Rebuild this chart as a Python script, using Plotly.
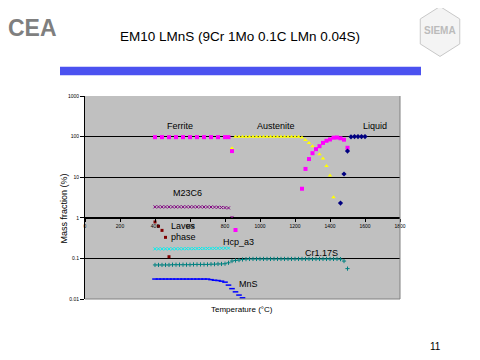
import plotly.graph_objects as go
import math

# ---------------- data ----------------
ferrite_T = [400, 440, 480, 520, 560, 600, 640, 680, 720, 760, 800, 820, 840, 860,
             1240, 1260, 1280, 1300, 1320, 1340, 1360, 1380, 1400, 1420, 1440, 1460, 1480, 1500]
ferrite_v = [97, 97, 97, 97, 97, 97, 97, 97, 97, 97, 97, 97, 44, 0.5,
             5.2, 16, 28, 39, 49, 58, 70, 79, 85, 94, 95, 91, 84, 53]

austenite_T = [840, 860, 880, 900, 920, 940, 960, 980, 1000, 1020, 1040, 1060, 1080, 1100,
               1120, 1140, 1160, 1180, 1200, 1220, 1240, 1260, 1280, 1300, 1320, 1340, 1360,
               1380, 1400, 1420]
austenite_v = [52, 99, 99, 99, 99, 99, 99, 99, 99, 99, 99, 99, 99, 99,
               99, 99, 99, 99, 99, 99, 95, 82, 70, 58, 47, 37, 29,
               19, 11, 3.2]

liquid_T = [1460, 1480, 1500, 1520, 1540, 1560, 1580, 1600]
liquid_v = [2.3, 12, 44, 99, 100, 100, 100, 100]

m23c6_T = [400, 420, 440, 460, 480, 500, 520, 540, 560, 580, 600, 620, 640, 660, 680,
           700, 720, 740, 760, 780, 800, 820, 840]
m23c6_v = [1.86, 1.86, 1.86, 1.86, 1.86, 1.86, 1.86, 1.86, 1.86, 1.86, 1.86, 1.86, 1.86, 1.86, 1.85,
           1.85, 1.84, 1.83, 1.82, 1.80, 1.78, 1.75, 1.02]

laves_T = [400, 420, 440, 460, 480]
laves_v = [0.79, 0.62, 0.49, 0.33, 0.11]

hcp_T = [400, 420, 440, 460, 480, 500, 520, 540, 560, 580, 600, 620, 640, 660, 680,
         700, 720, 740, 760, 780, 800, 820]
hcp_v = [0.172, 0.172, 0.172, 0.172, 0.172, 0.172, 0.173, 0.173, 0.173, 0.174, 0.174, 0.174,
         0.175, 0.175, 0.175, 0.176, 0.176, 0.177, 0.177, 0.178, 0.178, 0.179]

cr117s_T = [400, 420, 440, 460, 480, 500, 520, 540, 560, 580, 600, 620, 640, 660, 680,
            700, 720, 740, 760, 780, 800, 820, 840, 860, 880, 900, 920, 940, 960, 980,
            1000, 1020, 1040, 1060, 1080, 1100, 1120, 1140, 1160, 1180, 1200, 1220, 1240,
            1260, 1280, 1300, 1320, 1340, 1360, 1380, 1400, 1420, 1440, 1460, 1480, 1500]
cr117s_v = [0.069, 0.069, 0.069, 0.069, 0.069, 0.070, 0.070, 0.070, 0.070, 0.070, 0.070, 0.071,
            0.071, 0.071, 0.071, 0.071, 0.072, 0.072, 0.073, 0.073, 0.074, 0.078, 0.086, 0.089,
            0.091, 0.094, 0.096, 0.097, 0.097, 0.097, 0.097, 0.097, 0.097, 0.097, 0.097, 0.097,
            0.097, 0.097, 0.097, 0.097, 0.097, 0.097, 0.097, 0.097, 0.097, 0.097, 0.097, 0.097,
            0.097, 0.097, 0.097, 0.097, 0.097, 0.096, 0.086, 0.056]

mns_T = [400, 420, 440, 460, 480, 500, 520, 540, 560, 580, 600, 620, 640, 660, 680, 700,
         720, 740, 760, 780, 800, 820, 840, 860, 880, 900]
mns_v = [0.031, 0.031, 0.031, 0.031, 0.031, 0.031, 0.031, 0.031, 0.031, 0.031, 0.031, 0.031,
         0.031, 0.031, 0.031, 0.031, 0.030, 0.029, 0.0285, 0.0275, 0.026, 0.022, 0.018, 0.015,
         0.0125, 0.0107]

x_ticks = [0, 200, 400, 600, 800, 1000, 1200, 1400, 1600, 1800]
y_ticks = [0.01, 0.1, 1, 10, 100, 1000]
y_ticktext = ["0.01", "0.1", "1", "10", "100", "1000"]

# ---------------- layout geometry ----------------
# page coordinates (the page body has an 8px margin, so the figure is offset by 8px)
OFF = 8
W, H = 480 - OFF, 360 - OFF
PL, PR, PT, PB = 85, 400, 96, 291          # plot area in page pixels
ML, MT = PL - OFF, PT - OFF
MR, MB = 480 - PR, 360 - PB - OFF
PW, PH = PR - PL, PB - PT


def px(x):
    return (x - PL) / PW


def py(y):
    return (PB - y) / PH


fig = go.Figure()


def add(xs, ys, color, symbol, size, lw=0):
    fig.add_trace(go.Scatter(
        x=xs, y=ys, mode="markers",
        marker=dict(color=color, symbol=symbol, size=size,
                    line=dict(color=color, width=lw)),
        showlegend=False, hoverinfo="skip"))


add(m23c6_T, m23c6_v, "#800080", "x-thin-open", 3, 1)
add(hcp_T, hcp_v, "#00F0F0", "x-thin-open", 3, 1)
add(cr117s_T, cr117s_v, "#008080", "cross-thin-open", 3, 1)
add(mns_T, mns_v, "#0000FF", "line-ew-open", 4, 1.5)
add(laves_T, laves_v, "#800000", "square", 3)
add(austenite_T, austenite_v, "#FFFF00", "triangle-up", 4)
add(ferrite_T, ferrite_v, "#FF00FF", "square", 4)
add(liquid_T, liquid_v, "#000080", "diamond", 4)

FONT = "Liberation Sans, Arial, sans-serif"

labels = [
    ("Ferrite", 543, 180, "center"),
    ("Austenite", 1091, 180, "center"),
    ("Liquid", 1657, 180, "center"),
    ("M23C6", 583, 4.1, "center"),
    ("Laves", 480, 0.62, "left"),
    ("phase", 480, 0.33, "left"),
    ("Hcp_a3", 777, 0.26, "left"),
    ("Cr1.17S", 1352, 0.137, "center"),
    ("MnS", 867, 0.024, "left"),
]
for txt, xv, yv, al in labels:
    fig.add_annotation(x=xv, y=math.log10(yv), text=txt, showarrow=False,
                       xanchor=al, yanchor="middle",
                       font=dict(family=FONT, size=9, color="black"))

# axis titles
fig.add_annotation(xref="paper", yref="paper", x=px(64), y=py(204), text="Mass fraction (%)",
                   textangle=-90, showarrow=False, xanchor="center", yanchor="middle",
                   font=dict(family=FONT, size=9, color="black"))
fig.add_annotation(xref="paper", yref="paper", x=px(242), y=py(301), text="Temperature (°C)",
                   showarrow=False, xanchor="center", yanchor="middle",
                   font=dict(family=FONT, size=8, color="black"))

# slide texts
fig.add_annotation(xref="paper", yref="paper", x=px(6), y=py(31), text="<b>CEA</b>",
                   showarrow=False, xanchor="left", yanchor="middle",
                   font=dict(family=FONT, size=23, color="#7F7F7F"))
fig.add_annotation(xref="paper", yref="paper", x=px(240), y=py(38.5),
                   text="EM10 LMnS (9Cr 1Mo 0.1C LMn 0.04S)",
                   showarrow=False, xanchor="center", yanchor="middle",
                   font=dict(family=FONT, size=13.5, color="black"))
fig.add_annotation(xref="paper", yref="paper", x=px(435), y=py(337), text="11",
                   showarrow=False, xanchor="center", yanchor="middle",
                   font=dict(family=FONT, size=10, color="black"))

shapes = []
# blue bar
shapes.append(dict(type="rect", xref="paper", yref="paper", x0=px(60), x1=px(421),
                   y0=py(76), y1=py(68), fillcolor="#4B52F0", line=dict(width=0)))
# plot frame (right and bottom, gray)
shapes.append(dict(type="line", xref="paper", yref="paper", x0=1, x1=1, y0=0, y1=1,
                   line=dict(color="#808080", width=1)))
shapes.append(dict(type="line", xref="paper", yref="paper", x0=0, x1=1, y0=0, y1=0,
                   line=dict(color="#808080", width=1)))
# logo hexagon
cx, cy, r = 440, 34, 24
pts = []
for k in range(6):
    a = math.radians(90 + 60 * k)
    pts.append((px(cx + r * math.cos(a) * 0.95), py(cy - r * math.sin(a))))
path = "M " + " L ".join(f"{a:.4f},{b:.4f}" for a, b in pts) + " Z"
shapes.append(dict(type="path", xref="paper", yref="paper", path=path,
                   fillcolor="#F4F4F4", line=dict(color="#C8C8C8", width=1)))
fig.add_annotation(xref="paper", yref="paper", x=px(440), y=py(33), text="<b>SIEMA</b>",
                   showarrow=False, xanchor="center", yanchor="middle",
                   font=dict(family=FONT, size=10, color="#BBBBBB"))

fig.update_layout(
    width=W, height=H,
    margin=dict(l=ML, r=MR, t=MT, b=MB, pad=0),
    paper_bgcolor="white", plot_bgcolor="#C0C0C0",
    shapes=shapes,
    xaxis=dict(range=[0, 1800], tickvals=x_ticks, ticktext=[str(v) for v in x_ticks],
               anchor="free", position=0.4, showline=True, linecolor="black", linewidth=1,
               ticks="outside", ticklen=3, tickcolor="black", showgrid=False, zeroline=False,
               tickfont=dict(family=FONT, size=5, color="black")),
    yaxis=dict(type="log", range=[-2, 3], tickvals=y_ticks, ticktext=y_ticktext,
               showline=True, linecolor="black", linewidth=1, ticks="outside", ticklen=4,
               tickcolor="black", showgrid=True, gridcolor="black", gridwidth=1,
               zeroline=False, tickfont=dict(family=FONT, size=5, color="black")),
)

fig.write_html("out.html")
